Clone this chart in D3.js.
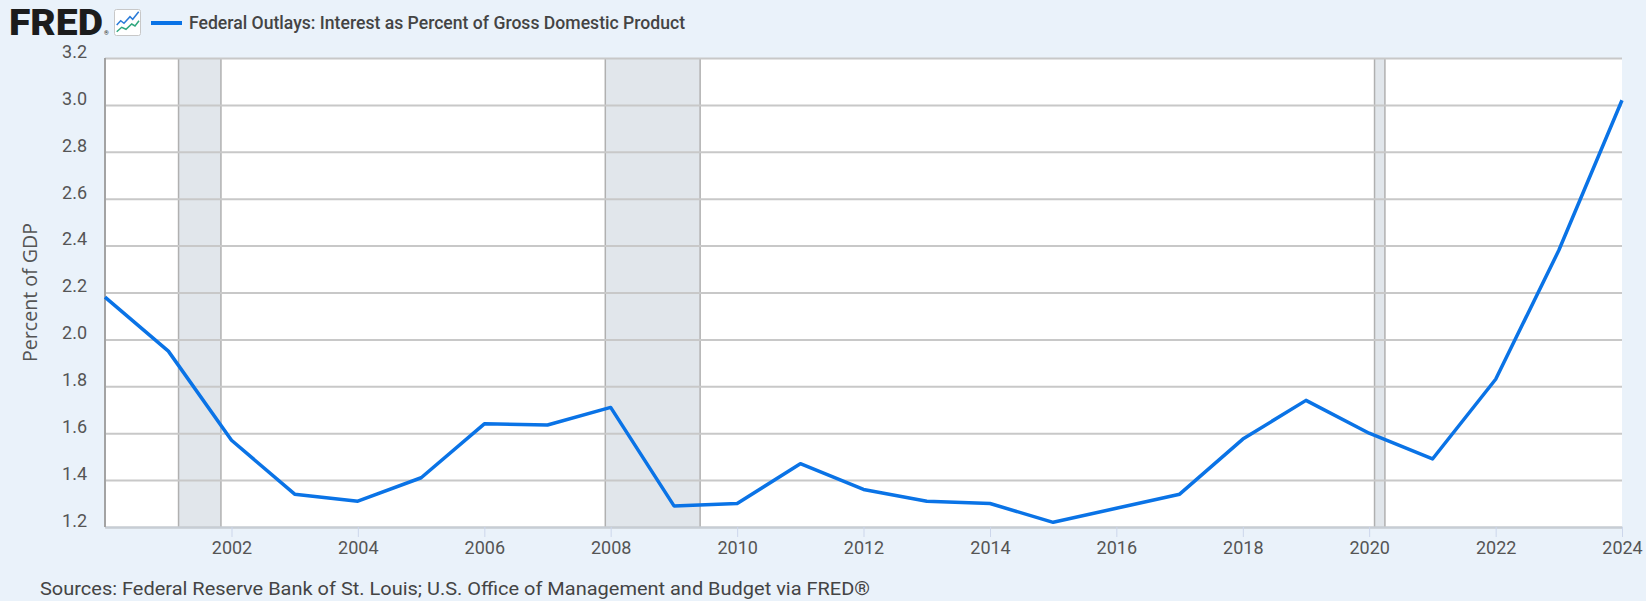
<!DOCTYPE html>
<html>
<head>
<meta charset="utf-8">
<script src="https://cdn.jsdelivr.net/npm/d3@7"></script>
<style>
  html, body { margin: 0; padding: 0; background: #eaf2fa; }
  svg { display: block; font-family: Roboto, 'Open Sans', sans-serif; }
</style>
</head>
<body>
<div class="chart"></div>
<script>
// fiscal years and interest outlays as % of GDP
const years = [2000, 2001, 2002, 2003, 2004, 2005, 2006, 2007, 2008, 2009, 2010, 2011, 2012,
  2013, 2014, 2015, 2016, 2017, 2018, 2019, 2020, 2021, 2022, 2023, 2024]
const values = [2.18, 1.95, 1.57, 1.34, 1.31, 1.41, 1.64, 1.635, 1.71, 1.29, 1.30, 1.47, 1.36,
  1.31, 1.30, 1.22, 1.28, 1.34, 1.575, 1.74, 1.60, 1.49, 1.83, 2.38, 3.02]
const recessions = [['2001-03-01', '2001-11-01'], ['2007-12-01', '2009-06-01'], ['2020-02-01', '2020-04-01']]
const xTickYears = [2002, 2004, 2006, 2008, 2010, 2012, 2014, 2016, 2018, 2020, 2022, 2024]
const yTicks = [1.2, 1.4, 1.6, 1.8, 2.0, 2.2, 2.4, 2.6, 2.8, 3.0, 3.2]
const seriesName = 'Federal Outlays: Interest as Percent of Gross Domestic Product'
const yTitle = 'Percent of GDP'
const sourceNote = 'Sources: Federal Reserve Bank of St. Louis; U.S. Office of Management and Budget via FRED®'

const width = 1646
const height = 601
const margin = {top: 58, right: 24, bottom: 74, left: 105}
const innerWidth = width - margin.left - margin.right
const innerHeight = height - margin.top - margin.bottom
const lineColor = '#0a73e6'

const svg = d3.select('.chart').append('svg').attr('width', width).attr('height', height)
svg.append('rect').attr('width', width).attr('height', height).attr('fill', '#eaf2fa')

const parse = d3.timeParse('%Y-%m-%d')
const yearDate = y => new Date(y, 0, 1)
const data = years.map((y, i) => ({date: yearDate(y), value: values[i]}))

const x = d3.scaleTime().domain([yearDate(years[0]), yearDate(years[years.length - 1])]).range([0, innerWidth])
const y = d3.scaleLinear().domain([yTicks[0], yTicks[yTicks.length - 1]]).range([innerHeight, 0])

const g = svg.append('g').attr('transform', `translate(${margin.left}, ${margin.top})`)
g.append('rect').attr('width', innerWidth).attr('height', innerHeight).attr('fill', '#fff')

// recession bands
const bands = g.append('g').attr('class', 'recessions')
recessions.forEach(([s, e]) => {
  const x0 = x(parse(s)), x1 = x(parse(e))
  bands.append('rect').attr('x', x0).attr('y', 0).attr('width', x1 - x0).attr('height', innerHeight)
    .attr('fill', '#e1e6eb')
  bands.selectAll(null).data([x0, x1]).join('line')
    .attr('x1', d => d).attr('x2', d => d).attr('y1', 0).attr('y2', innerHeight)
    .attr('stroke', '#b0b0b0').attr('stroke-width', 1.5)
})

// y axis with gridlines
const yAxis = g.append('g')
  .call(d3.axisLeft(y).tickValues(yTicks).tickSize(-innerWidth).tickPadding(18).tickFormat(d3.format('.1f')))
yAxis.select('.domain').remove()
yAxis.selectAll('.tick line').attr('stroke', '#c8c8c8').attr('stroke-width', 2)
yAxis.selectAll('.tick text').attr('y', -7).attr('dy', '0.35em')
  .attr('font-size', 18).attr('fill', '#555').attr('font-family', 'Roboto, sans-serif')

// x axis
const xAxis = g.append('g').attr('transform', `translate(0, ${innerHeight})`)
  .call(d3.axisBottom(x).tickValues(xTickYears.map(yearDate)).tickSize(10).tickSizeOuter(0).tickPadding(4)
    .tickFormat(d3.timeFormat('%Y')))
xAxis.select('.domain').attr('stroke', '#c6cdd5').attr('stroke-width', 2)
xAxis.selectAll('.tick line').attr('stroke', '#ccd6eb').attr('stroke-width', 1)
xAxis.selectAll('.tick text').attr('font-size', 18).attr('fill', '#555').attr('font-family', 'Roboto, sans-serif')

// left border
g.append('line').attr('x1', 0).attr('x2', 0).attr('y1', 0).attr('y2', innerHeight)
  .attr('stroke', '#a3a3a3').attr('stroke-width', 2)

// series
const line = d3.line().x(d => x(d.date)).y(d => y(d.value))
g.append('path').datum(data)
  .attr('d', line)
  .attr('fill', 'none')
  .attr('stroke', lineColor)
  .attr('stroke-width', 3.5)
  .attr('stroke-linejoin', 'round')

// y title
svg.append('text')
  .attr('transform', `translate(37, ${margin.top + innerHeight / 2}) rotate(-90)`)
  .attr('text-anchor', 'middle')
  .attr('font-size', 20).attr('fill', '#555')
  .attr('font-family', "'Open Sans', sans-serif")
  .attr('textLength', 139).attr('lengthAdjust', 'spacingAndGlyphs')
  .text(yTitle)

// header: FRED logo, icon, legend
const header = svg.append('g')
header.append('text').attr('x', 9).attr('y', 35)
  .attr('font-size', 36).attr('font-weight', 900).attr('fill', '#1c1c1c')
  .attr('textLength', 94).attr('lengthAdjust', 'spacingAndGlyphs')
  .attr('font-family', 'Roboto, sans-serif')
  .text('FRED')
header.append('text').attr('x', 104).attr('y', 35).attr('font-size', 6).attr('fill', '#1c1c1c').text('®')

const icon = header.append('g')
icon.append('rect').attr('x', 114.5).attr('y', 9.5).attr('width', 26).attr('height', 26).attr('rx', 2)
  .attr('fill', '#fff').attr('stroke', '#c8c8c8')
icon.append('polyline')
  .attr('points', '116.7,25 120.7,20.7 124,23.3 130,16.7 132.7,19.3 138.7,11.7')
  .attr('fill', 'none').attr('stroke', '#2b7bd8').attr('stroke-width', 1.5)
icon.append('polyline')
  .attr('points', '116.7,31.7 121.7,27.3 126,29.3 131.7,24 135,26 139,20.7')
  .attr('fill', 'none').attr('stroke', '#2fa77f').attr('stroke-width', 1.5)

header.append('line').attr('x1', 151).attr('x2', 182).attr('y1', 23).attr('y2', 23)
  .attr('stroke', lineColor).attr('stroke-width', 4)
header.append('text').attr('x', 189).attr('y', 28.5)
  .attr('font-size', 18).attr('font-weight', 500).attr('fill', '#444')
  .attr('textLength', 496).attr('lengthAdjust', 'spacingAndGlyphs')
  .text(seriesName)

// source note
svg.append('text').attr('x', 40).attr('y', 595)
  .attr('font-size', 19).attr('fill', '#444')
  .attr('textLength', 830).attr('lengthAdjust', 'spacingAndGlyphs')
  .text(sourceNote)
</script>
</body>
</html>
